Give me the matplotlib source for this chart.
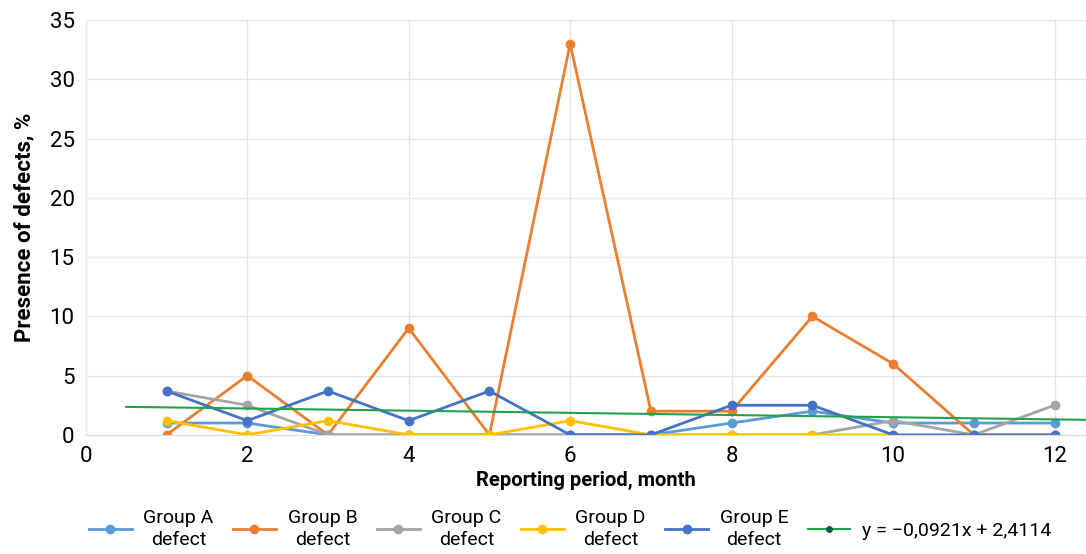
import matplotlib
matplotlib.use('Agg')
import matplotlib.pyplot as plt
import numpy as np

plt.rcParams['font.family'] = ['Roboto', 'DejaVu Sans']

months = [1, 2, 3, 4, 5, 6, 7, 8, 9, 10, 11, 12]
group_a = [1, 1, 0, 0, 0, 0, 0, 1, 2, 1, 1, 1]
group_b = [0, 5, 0, 9, 0, 33, 2, 2, 10, 6, 0, 0]
group_c = [3.7, 2.5, 0, 0, 0, 0, 0, 0, 0, 1.2, 0, 2.5]
group_d = [1.2, 0, 1.2, 0, 0, 1.2, 0, 0, 0, 0]
group_e = [3.7, 1.2, 3.7, 1.2, 3.7, 0, 0, 2.5, 2.5, 0, 0, 0]
trend_slope = -0.0921
trend_icept = 2.4114
trend_x = [0.5, 12.4]

fig = plt.figure(figsize=(10.86, 5.54), dpi=100)
ax = fig.add_axes([0.079, 0.215, 0.921, 0.749])

series = [
    (group_a, '#5B9BD5', 'Group A\ndefect'),
    (group_b, '#ED7D31', 'Group B\ndefect'),
    (group_c, '#A5A5A5', 'Group C\ndefect'),
    (group_d, '#FFC000', 'Group D\ndefect'),
    (group_e, '#4472C4', 'Group E\ndefect'),
]
for vals, col, lab in series:
    ax.plot(months[:len(vals)], vals, color=col, lw=2, marker='o', ms=6, label=lab)

tx = np.array(trend_x)
ax.plot(tx, trend_slope * tx + trend_icept, color='#22A14B', lw=1.5,
        marker='o', ms=4, mfc='#0B5A4A', mec='#0B5A4A', markevery=[],
        label='y = \u22120,0921x + 2,4114')

ax.set_xlim(0, 12.39)
ax.set_ylim(0, 35)
ax.set_xticks(range(0, 13, 2))
ax.set_yticks(range(0, 36, 5))
ax.grid(True, color='#E6E6E6', lw=1)
ax.set_axisbelow(True)
for s in ax.spines.values():
    s.set_visible(False)
ax.spines['bottom'].set_visible(True)
ax.spines['bottom'].set_color('#D9D9D9')
ax.tick_params(length=0, labelsize=16, pad=8)

ax.set_xlabel('Reporting period, month', fontsize=14.5, fontweight='bold', labelpad=3)
ax.set_ylabel('Presence of defects, %', fontsize=16, fontweight='bold', labelpad=10)

leg = fig.legend(loc='lower center', bbox_to_anchor=(0.525, 0.006), ncol=6,
                 frameon=False, fontsize=14, handlelength=2.2, columnspacing=1.0,
                 handletextpad=0.6, labelspacing=0.1, borderaxespad=0,
                 borderpad=0.1)
for t in leg.get_texts():
    t.set_multialignment('center')
    t.set_linespacing(1.25)
# show a single dot on the trend line handle
leg.legend_handles[-1].set_markevery([1])

fig.savefig('out.png', dpi=100)
